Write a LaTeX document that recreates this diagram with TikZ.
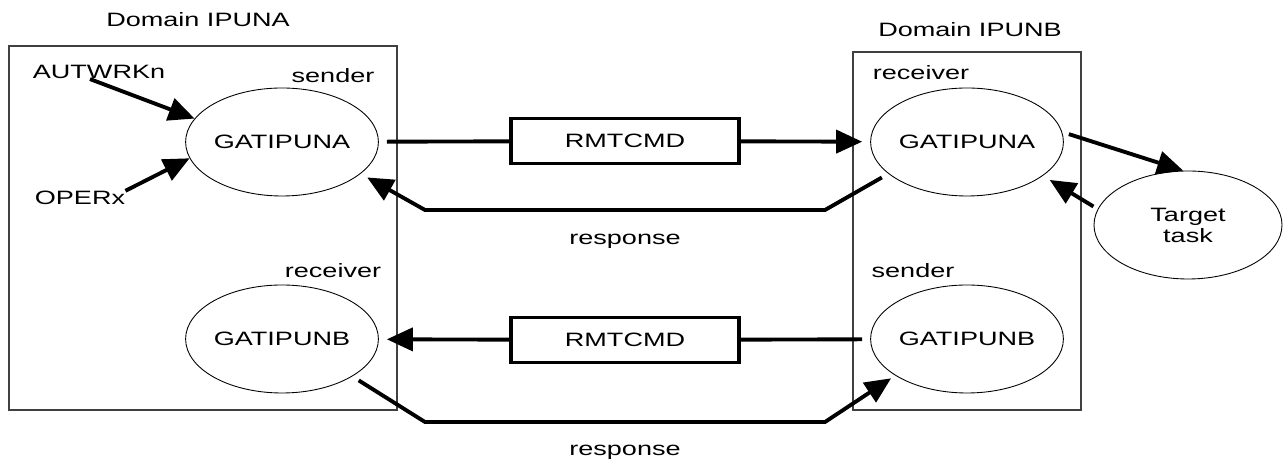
\documentclass[tikz,border=0pt]{standalone}
\usepackage{fontspec}
\setmainfont[FakeStretch=1.4]{Liberation Sans}
\usetikzlibrary{arrows.meta,shapes.geometric}

\tikzset{
    lbl/.style={inner sep=0pt, font=\fontsize{11}{12}\selectfont},
    dombox/.style={draw=black!75, line width=0.6pt, inner sep=0pt},
    proc/.style={ellipse, draw, line width=0.5pt, inner sep=0pt,
        minimum width=3.76cm, minimum height=2.16cm, align=center,
        font=\fontsize{11}{12}\selectfont},
    cmdbox/.style={draw, line width=2pt, minimum width=4.56cm,
        minimum height=0.9cm, font=\fontsize{11}{12}\selectfont},
    link/.style={line width=2.2pt},
    flow/.style={line width=2.2pt, -{Triangle[length=5.2mm,width=4.6mm]}}
}

\begin{document}
\begin{tikzpicture}
    \useasboundingbox (0,0) rectangle (25.66,9.3);

    % the two domains
    \node[dombox, minimum width=7.76cm, minimum height=7.28cm] at (4.06,4.74) (domA) {};
    \node[dombox, minimum width=4.56cm, minimum height=7.16cm] at (19.34,4.68) (domB) {};
    \node[lbl] at (3.96,8.9) (domAlbl) {Domain IPUNA};
    \node[lbl] at (19.4,8.7) (domBlbl) {Domain IPUNB};

    % gateway tasks
    \node[proc] at (5.64,6.46) (aSend) {GATIPUNA};
    \node[proc] at (5.64,2.52) (bRecv) {GATIPUNB};
    \node[proc] at (19.34,6.46) (aRecv) {GATIPUNA};
    \node[proc] at (19.34,2.52) (bSend) {GATIPUNB};
    \node[proc] at (23.76,4.8) (task) {Target\\task};

    \node[lbl] at (6.66,7.78) (sndA) {sender};
    \node[lbl] at (6.66,3.88) (rcvA) {receiver};
    \node[lbl] at (18.42,7.84) (rcvB) {receiver};
    \node[lbl] at (18.26,3.88) (sndB) {sender};

    \node[lbl] at (1.98,7.86) (autw) {AUTWRKn};
    \node[lbl] at (1.6,5.34) (opx) {OPERx};

    \node[cmdbox] at (12.5,6.48) (cmdA) {RMTCMD};
    \node[cmdbox] at (12.5,2.5) (cmdB) {RMTCMD};
    \node[lbl] at (12.5,4.48) (resA) {response};
    \node[lbl] at (12.5,0.26) (resB) {response};

    \coordinate (rA1) at (16.5,5.1);
    \coordinate (rA2) at (8.5,5.1);
    \coordinate (rB1) at (8.5,0.86);
    \coordinate (rB2) at (16.5,0.86);

    % inputs to the sender
    \draw[flow] ([xshift=-1.8mm]autw.south) -- (aSend.165);
    \draw[flow] (opx.north east) -- (aSend.190);

    % command A to B and its response
    \draw[link, shorten <=1.6mm] (aSend) -- (cmdA);
    \draw[flow, shorten >=1.6mm] (cmdA) -- (aRecv);
    \draw[flow, shorten <=1.5mm, shorten >=1.5mm] (aRecv.202) -- (rA1) -- (rA2) -- (aSend.-22);

    % command B to A and its response
    \draw[link, shorten <=1.6mm] (bSend) -- (cmdB);
    \draw[flow, shorten >=1.6mm] (cmdB) -- (bRecv);
    \draw[flow, shorten <=1.5mm, shorten >=1mm] (bRecv.-28) -- (rB1) -- (rB2) -- (bSend.207);

    % target task
    \draw[flow, shorten <=1.4mm] (aRecv.6) -- (task.95);
    \draw[flow, shorten <=1mm, shorten >=1.6mm] (task.170) -- (aRecv.-24);
\end{tikzpicture}
\end{document}
